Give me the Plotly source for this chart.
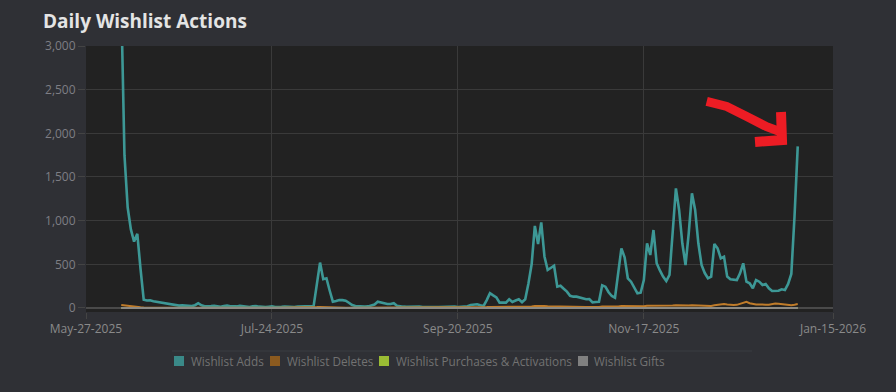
import pandas as pd
import plotly.graph_objects as go

# ---- data (daily, Jun-07-2025 .. Jan-04-2026) ----
start_date = "2025-06-07"
n_days = 212
dates = pd.date_range(start_date, periods=n_days, freq="D")

wishlist_adds = [
    3500, 1750, 1150, 900, 760, 850, 450, 95, 85, 88,
    78, 72, 64, 56, 48, 40, 34, 30, 27, 30,
    24, 26, 22, 32, 55, 30, 20, 18, 22, 25,
    18, 15, 22, 28, 20, 15, 18, 25, 20, 15,
    12, 18, 22, 15, 12, 10, 15, 18, 12, 10,
    14, 16, 12, 10, 12, 15, 18, 14, 16, 20,
    22, 270, 520, 330, 340, 200, 72, 80, 92, 90,
    84, 60, 34, 22, 18, 20, 15, 18, 25, 40,
    72, 60, 54, 45, 46, 54, 26, 18, 15, 14,
    16, 12, 14, 15, 12, 10, 14, 12, 10, 12,
    14, 12, 10, 12, 15, 12, 14, 18, 20, 34,
    40, 42, 30, 23, 90, 170, 145, 122, 61, 60,
    61, 100, 69, 85, 100, 65, 100, 280, 500, 940,
    733, 980, 590, 435, 460, 484, 244, 255, 220, 187,
    140, 130, 130, 118, 105, 100, 103, 65, 68, 72,
    260, 244, 180, 137, 118, 400, 683, 580, 340, 301,
    230, 168, 175, 320, 741, 607, 893, 512, 430, 359,
    309, 378, 870, 1370, 1122, 741, 492, 855, 1313, 1122,
    741, 492, 400, 340, 359, 733, 683, 569, 588, 359,
    329, 322, 320, 397, 512, 301, 283, 226, 320, 301,
    263, 275, 226, 195, 197, 198, 214, 206, 275, 390,
    1050, 1850,
]

wishlist_deletes = [
    35, 30, 25, 18, 12, 10, 8, 6, 5, 5,
    5, 4, 4, 5, 3, 4, 5, 3, 4, 3,
    3, 4, 3, 3, 4, 5, 3, 3, 4, 3,
    3, 3, 4, 3, 3, 2, 3, 3, 4, 3,
    3, 2, 3, 3, 2, 3, 3, 2, 3, 3,
    2, 3, 3, 2, 3, 3, 2, 3, 3, 4,
    6, 10, 12, 10, 8, 6, 5, 5, 4, 4,
    4, 3, 3, 3, 3, 4, 3, 3, 4, 5,
    6, 5, 5, 4, 4, 4, 3, 3, 3, 3,
    3, 3, 3, 4, 3, 3, 3, 3, 3, 4,
    3, 3, 4, 4, 3, 4, 5, 4, 5, 6,
    6, 7, 6, 8, 10, 12, 12, 10, 10, 9,
    9, 10, 9, 10, 9, 10, 10, 12, 16, 22,
    24, 26, 22, 20, 20, 20, 16, 16, 15, 14,
    13, 13, 12, 12, 12, 12, 11, 10, 10, 11,
    16, 16, 14, 13, 13, 18, 22, 22, 20, 18,
    16, 15, 16, 20, 26, 26, 28, 24, 22, 20,
    20, 22, 28, 32, 30, 28, 24, 28, 32, 30,
    28, 24, 22, 22, 24, 30, 34, 36, 45, 40,
    34, 34, 36, 45, 60, 70, 55, 45, 40, 40,
    42, 38, 36, 45, 50, 48, 42, 36, 34, 32,
    38, 45,
]

wishlist_purchases = [0] * n_days   # read as zero throughout
wishlist_gifts = [0] * n_days       # read as zero throughout

series_names = ["Wishlist Adds", "Wishlist Deletes",
                "Wishlist Purchases & Activations", "Wishlist Gifts"]
line_colors = ["#3d9896", "#c07c2a", "#9abc34", "#8c8a84"]
legend_colors = ["#3a8988", "#8b5a1f", "#9abc34", "#808080"]

tick_dates = ["2025-05-27", "2025-07-24", "2025-09-20", "2025-11-17", "2026-01-15"]
tick_labels = ["May-27-2025", "Jul-24-2025", "Sep-20-2025", "Nov-17-2025", "Jan-15-2026"]
y_ticks = [0, 500, 1000, 1500, 2000, 2500, 3000]

FONT = "Open Sans"
PAPER_BG = "#2f3035"

fig = go.Figure()
all_series = [wishlist_adds, wishlist_deletes, wishlist_purchases, wishlist_gifts]
widths = [2.6, 2, 2, 2]
for vals, name, col, w in zip(all_series, series_names, line_colors, widths):
    fig.add_trace(go.Scatter(x=dates, y=vals, mode="lines", name=name,
                             line=dict(color=col, width=w), showlegend=False))

L, T, R, B = 86, 46, 833, 312
def px2paper(px, py):
    return (px - L) / (R - L), (B - py) / (B - T)

# hand-drawn red arrow
stroke = [(706.7, 101.5), (726.7, 106.5), (746.7, 116.5), (766.7, 126.7), (781, 132)]
head = [(781, 112), (782, 140), (755, 142)]
def mkpath(pts):
    s = []
    for k, (a, b) in enumerate(pts):
        x, y = px2paper(a, b)
        s.append(("M" if k == 0 else "L") + f" {x:.4f},{y:.4f}")
    return " ".join(s)

shapes = [
    dict(type="path", xref="paper", yref="paper", path=mkpath(stroke),
         line=dict(color="#ed1c24", width=9), layer="above"),
    dict(type="path", xref="paper", yref="paper", path=mkpath(head),
         line=dict(color="#ed1c24", width=10), layer="above"),
]
lx0, ly = px2paper(172, 351)
lx1, _ = px2paper(752, 351)
shapes.append(dict(type="line", xref="paper", yref="paper", x0=lx0, x1=lx1, y0=ly, y1=ly,
                   line=dict(color="#3b3c42", width=1)))

# custom legend: square swatches + labels
annotations = []
swatch_x = [174, 270, 379, 578]
text_x = [189, 285, 394, 592]
leg_y = 361
for name, col, sx, tx in zip(series_names, legend_colors, swatch_x, text_x):
    x0, y0 = px2paper(sx, leg_y + 5)
    x1, y1 = px2paper(sx + 10, leg_y - 5)
    shapes.append(dict(type="rect", xref="paper", yref="paper", x0=x0, x1=x1, y0=y0, y1=y1,
                       line=dict(width=0), fillcolor=col))
    ax, ay = px2paper(tx, leg_y)
    annotations.append(dict(text=name, xref="paper", yref="paper", x=ax, y=ay,
                            xanchor="left", yanchor="middle", showarrow=False,
                            font=dict(family=FONT, size=11.75, color="#727272")))

fig.update_layout(
    width=896, height=392,
    margin=dict(l=L, r=896 - R, t=T, b=392 - B),
    paper_bgcolor=PAPER_BG,
    plot_bgcolor="#222222",
    showlegend=False,
    font=dict(family=FONT, color="#8a8a8a", size=12),
    title=dict(text="Daily Wishlist Actions", x=43 / 896, xanchor="left", xref="container",
               y=1 - 21 / 392, yanchor="middle", yref="container",
               font=dict(family=FONT, size=19, color="#e4e4e4", weight="bold")),
    xaxis=dict(type="date", range=["2025-05-27", "2026-01-15"],
               tickvals=tick_dates, ticktext=tick_labels,
               showgrid=True, gridcolor="#3a3a3a", gridwidth=1,
               ticks="outside", ticklen=6, tickcolor="#444444",
               tickfont=dict(size=12, color="#8a8a8a"),
               showline=False, zeroline=False, fixedrange=True),
    yaxis=dict(range=[-46, 3000], tickvals=y_ticks, tickformat=",",
               showgrid=True, gridcolor="#3a3a3a", gridwidth=1,
               zeroline=True, zerolinecolor="#4a4a4a", zerolinewidth=2,
               ticks="outside", ticklen=7, tickcolor="#444444",
               tickfont=dict(size=12, color="#7e7e84"),
               showline=False, fixedrange=True),
    shapes=shapes,
    annotations=annotations,
    hovermode="x",
)

fig.write_html(
    "out.html",
    config={"displayModeBar": False},
    post_script=("document.body.style.margin='0';"
                 "document.body.style.background='" + PAPER_BG + "';"),
)
